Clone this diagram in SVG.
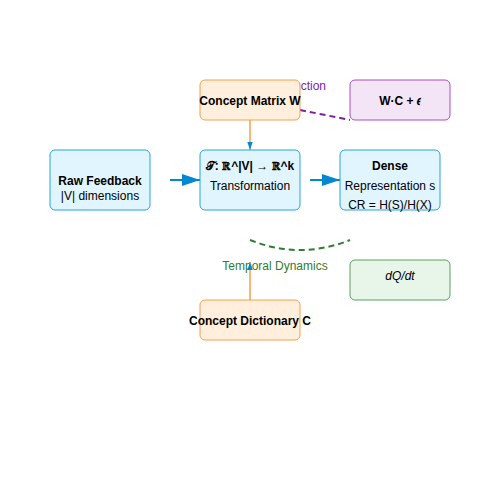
<svg xmlns="http://www.w3.org/2000/svg" width="500" height="500" viewBox="0 0 500 500">
<defs>
<style>
text{font-family:"Liberation Sans",Arial,sans-serif;font-size:12px;fill:#000;text-anchor:middle}
.b{font-weight:bold}
.blue rect{fill:#e1f5fe;stroke:#29a3de;stroke-width:1}
.orange rect{fill:#ffefdc;stroke:#f5a04a;stroke-width:1}
.purple rect{fill:#f3e5f5;stroke:#ab4fc0;stroke-width:1}
.green rect{fill:#e8f5e9;stroke:#5e9e62;stroke-width:1}
</style>
<marker id="ah" viewBox="0 0 9 6" refX="9" refY="3" markerWidth="18" markerHeight="12" markerUnits="userSpaceOnUse" orient="auto"><path d="M0,0L9,3L0,6z" fill="#0288d1"/></marker>
<marker id="ahs" viewBox="0 0 9 6" refX="9" refY="3" markerWidth="8" markerHeight="6" markerUnits="userSpaceOnUse" orient="auto"><path d="M0,0L9,3L0,6z" fill="#0288d1"/></marker>
</defs>
<rect width="500" height="500" fill="#fff"/>
<g id="connectors">
<text x="286" y="90" style="fill:#7b1fa2">Reconstruction</text>
<path d="M300,110L350,120" stroke="#7b1fa2" stroke-width="2" stroke-dasharray="6,4" fill="none"/>
<path d="M170,180L200,180" stroke="#0288d1" stroke-width="2" marker-end="url(#ah)"/>
<path d="M310,180L340,180" stroke="#0288d1" stroke-width="2" marker-end="url(#ah)"/>
<path d="M250,120L250,150" stroke="#f5a04a" stroke-width="1.5" marker-end="url(#ahs)"/>
<path d="M250,240Q300,260 350,240" stroke="#2e7d32" stroke-width="2" stroke-dasharray="6,4" fill="none"/>
<text x="275" y="270" style="fill:#2e7d32">Temporal Dynamics</text>
<path d="M250,300L250,262" stroke="#f5a04a" stroke-width="1.5" marker-end="url(#ahs)"/>
</g>
<g id="concept-matrix" class="orange"><rect x="200" y="80" width="100" height="40" rx="5"/><text x="250" y="105" class="b">Concept Matrix W</text></g>
<g id="wc" class="purple"><rect x="350" y="80" width="100" height="40" rx="5"/><text x="400" y="105" class="b">W·C + 𝜖</text></g>
<g id="raw" class="blue"><rect x="50" y="150" width="100" height="60" rx="5"/><text x="100" y="185" class="b">Raw Feedback</text><text x="100" y="200">|V| dimensions</text></g>
<g id="transform" class="blue"><rect x="200" y="150" width="100" height="60" rx="5"/><text x="250" y="170" class="b">𝒯: ℝ^|V| → ℝ^k</text><text x="250" y="190">Transformation</text></g>
<g id="dense" class="blue"><rect x="340" y="150" width="100" height="60" rx="5"/><text x="390" y="170" class="b">Dense</text><text x="390" y="190">Representation s</text><text x="390" y="209">CR = H(S)/H(X)</text></g>
<g id="dq" class="green"><rect x="350" y="260" width="100" height="40" rx="5"/><text x="400" y="280" style="font-style:italic">dQ/dt</text></g>
<g id="dict" class="orange"><rect x="200" y="300" width="100" height="40" rx="5"/><text x="250" y="325" class="b">Concept Dictionary C</text></g>
</svg>
